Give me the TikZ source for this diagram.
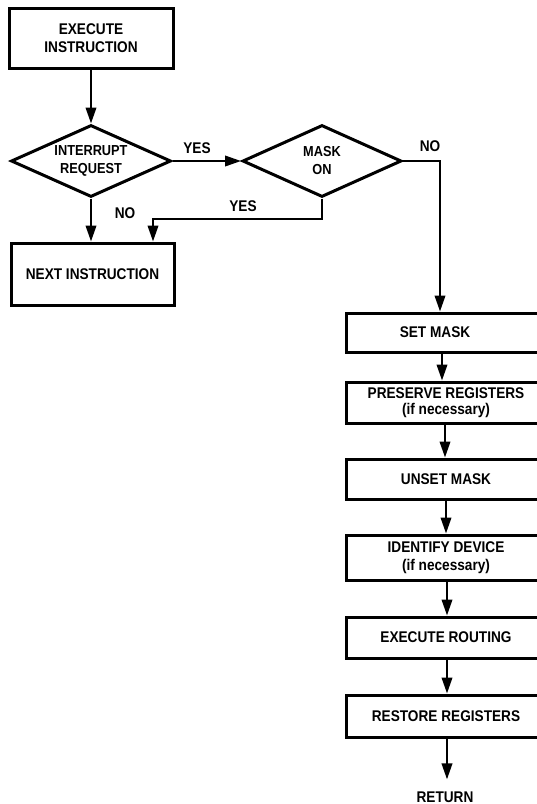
\documentclass[tikz,border=0pt]{standalone}
\usepackage{fontspec}
\setmainfont{Liberation Sans}[FakeStretch=0.88]
\usetikzlibrary{arrows.meta,shapes.geometric}
\begin{document}
\begin{tikzpicture}[x=1pt,y=-1pt,
  txt/.style={font=\fontsize{15.5}{18.5}\selectfont\bfseries},
  box/.style={txt,draw,line width=3pt,inner sep=0pt,align=center},
  rbox/.style={box,minimum width=200pt},
  dia/.style={font=\fontsize{14.5}{18}\selectfont\bfseries,draw,diamond,aspect=2.2,line width=3pt,inner sep=0pt,align=center},
  conn/.style={line width=2.2pt,-{Triangle[length=16pt,width=10.5pt]}},
  lbl/.style={txt,inner sep=0pt}]
\useasboundingbox (0,0) rectangle (537,804);
\clip (0,0) rectangle (537,804);

% left part
\node[box,minimum width=164pt,minimum height=60pt] (exec) at (91,38) {EXECUTE\\INSTRUCTION};
\node[dia,minimum width=160pt,minimum height=72pt] (intr) at (91,161) {INTERRUPT\\REQUEST};
\node[dia,minimum width=159pt,minimum height=72pt] (mask) at (322,161) {MASK\\ON};
\node[box,minimum width=163pt,minimum height=62pt] (next) at (92.5,274) {NEXT INSTRUCTION};

% right column
\node[rbox,minimum height=39pt] (setmask) at (446,332.5) {SET MASK\hspace*{22pt}};
\node[rbox,minimum height=41pt,font=\fontsize{15.5}{16}\selectfont\bfseries] (preserve) at (446,402.5) {PRESERVE REGISTERS\\(if necessary)};
\node[rbox,minimum height=40pt] (unset) at (446,479) {UNSET MASK};
\node[rbox,minimum height=45pt] (identify) at (446,557.5) {IDENTIFY DEVICE\\(if necessary)};
\node[rbox,minimum height=41pt] (routing) at (446,637.5) {EXECUTE ROUTING};
\node[rbox,minimum height=42pt] (restore) at (446,716) {RESTORE REGISTERS};
\node[lbl] (ret) at (445,797) {RETURN};

% labels
\node[lbl] (yes1) at (197,148) {YES};
\node[lbl] (no1) at (125,213) {NO};
\node[lbl] (yes2) at (243,206) {YES};
\node[lbl] (no2) at (430,146) {NO};

% helper coordinates
\coordinate (ybend) at (0,219);
\coordinate (nextin) at ([xshift=60.5pt]next.north);
\coordinate (c0) at (440,0);
\coordinate (c1) at (442,0);
\coordinate (c2) at (445,0);
\coordinate (c3) at (446,0);
\coordinate (c4) at (447,0);

% connectors
\draw[conn] (exec.south) -- (intr.north);
\draw[conn] (intr.east) -- (mask.west);
\draw[conn] (intr.south) -- (intr.south |- next.north);
\draw[conn] (mask.south) |- (ybend -| nextin) -- (nextin);
\draw[conn] (mask.east) -| (setmask.north -| c0);
\draw[conn] (setmask.south -| c1) -- (preserve.north -| c1);
\draw[conn] (preserve.south -| c2) -- (unset.north -| c2);
\draw[conn] (unset.south -| c3) -- (identify.north -| c3);
\draw[conn] (identify.south -| c4) -- (routing.north -| c4);
\draw[conn] (routing.south -| c4) -- (restore.north -| c4);
\draw[conn] (restore.south -| c4) -- ([yshift=12pt]ret.north -| c4);
\end{tikzpicture}
\end{document}
